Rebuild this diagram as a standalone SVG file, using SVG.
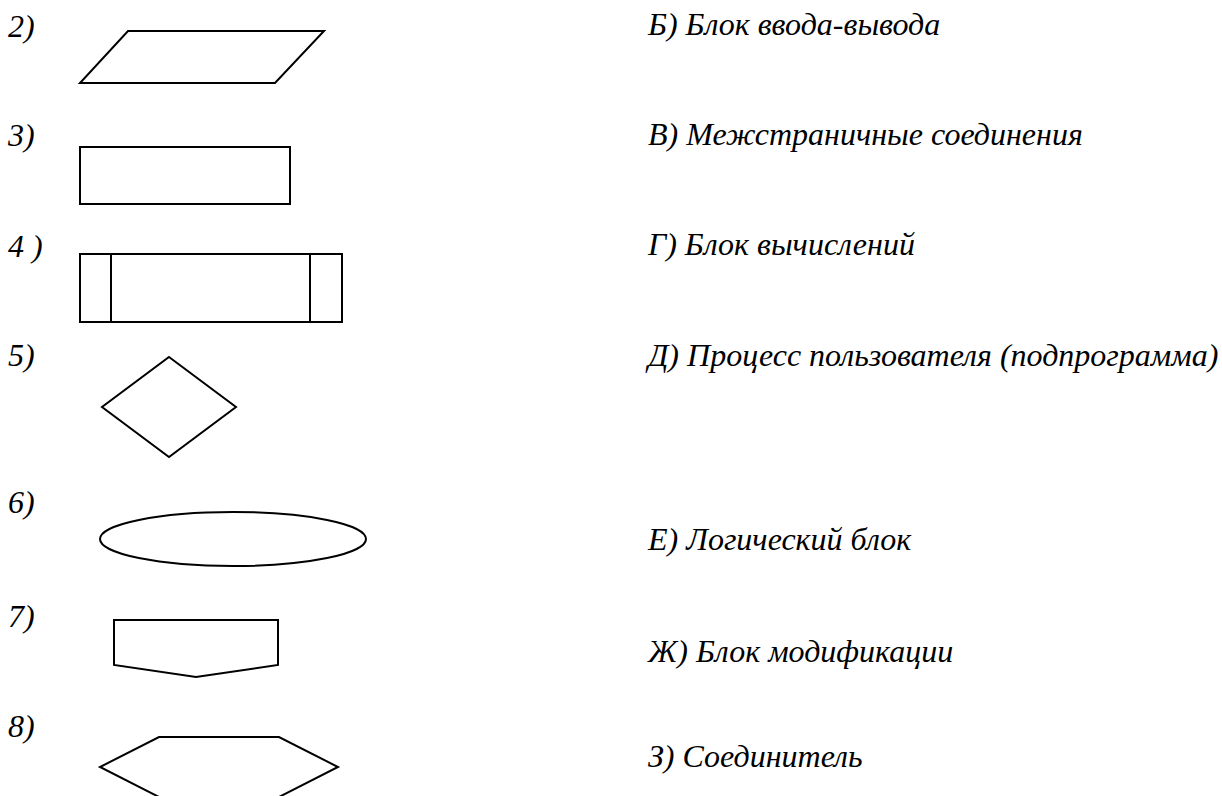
<svg xmlns="http://www.w3.org/2000/svg" width="1222" height="796" viewBox="0 0 1222 796">
  <style>
    .shape { fill: none; stroke: #000; stroke-width: 2; stroke-linejoin: miter; }
    .num, .lbl { font-family: "Liberation Serif", "Times New Roman", serif; font-style: italic; font-size: 32px; fill: #000; }
  </style>
  <rect width="1222" height="796" fill="#fff"/>

  <!-- numbering down the left side -->
  <g id="numbers">
    <text class="num" x="8" y="37">2)</text>
    <text class="num" x="8" y="146">3)</text>
    <text class="num" x="8" y="257">4 )</text>
    <text class="num" x="8" y="366">5)</text>
    <text class="num" x="8" y="513">6)</text>
    <text class="num" x="8" y="627">7)</text>
    <text class="num" x="8" y="737">8)</text>
  </g>

  <!-- flowchart symbols -->
  <g id="shape-2"><polygon class="shape" points="128,31 324,31 275,83 80,83"/></g>
  <g id="shape-3"><rect class="shape" x="80" y="147" width="210" height="57"/></g>
  <g id="shape-4">
    <rect class="shape" x="80" y="254" width="262" height="68"/>
    <line class="shape" x1="111" y1="254" x2="111" y2="322"/>
    <line class="shape" x1="310" y1="254" x2="310" y2="322"/>
  </g>
  <g id="shape-5"><polygon class="shape" points="169,357 236,407 169,457 102,407"/></g>
  <g id="shape-6"><ellipse class="shape" cx="233" cy="539" rx="133" ry="27"/></g>
  <g id="shape-7"><polygon class="shape" points="114,620 278,620 278,665 196,677 114,665"/></g>
  <g id="shape-8"><polygon class="shape" points="159,737 279,737 338,767 279,797 159,797 100,767"/></g>

  <!-- descriptions on the right -->
  <g id="labels">
    <text class="lbl" x="648" y="35">Б) Блок ввода-вывода</text>
    <text class="lbl" x="648" y="145">В) Межстраничные соединения</text>
    <text class="lbl" x="648" y="255">Г) Блок вычислений</text>
    <text class="lbl" x="648" y="366">Д) Процесс пользователя (подпрограмма)</text>
    <text class="lbl" x="648" y="550">Е) Логический блок</text>
    <text class="lbl" x="648" y="662">Ж) Блок модификации</text>
    <text class="lbl" x="648" y="767">З) Соединитель</text>
  </g>
</svg>
